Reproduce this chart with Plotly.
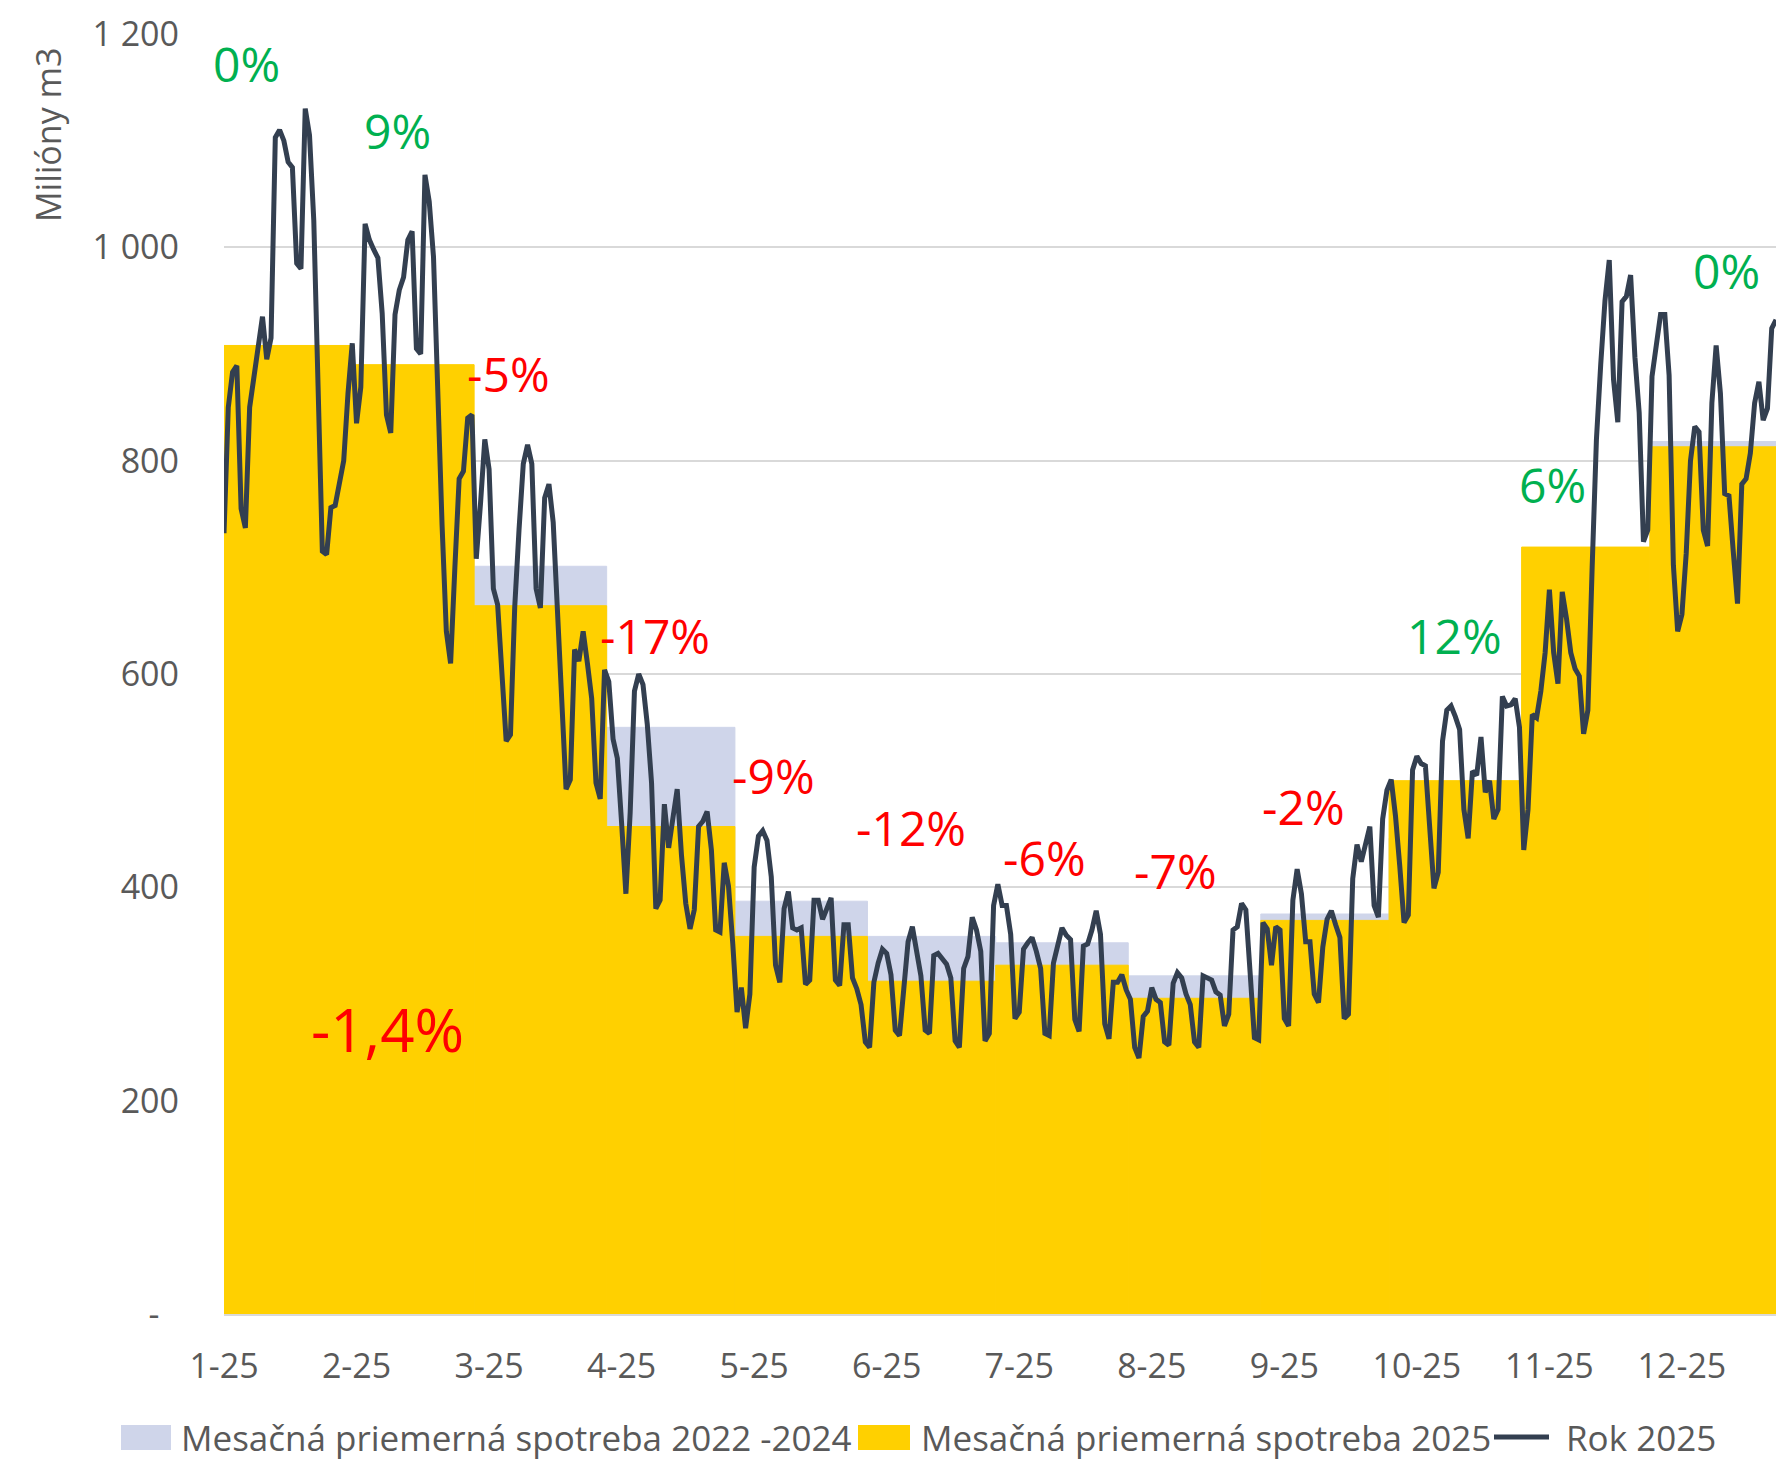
import plotly.graph_objects as go
from itertools import accumulate

# ---------------- data ----------------
month_labels = ["1-25", "2-25", "3-25", "4-25", "5-25", "6-25",
                "7-25", "8-25", "9-25", "10-25", "11-25", "12-25"]
month_days = [31, 28, 31, 30, 31, 30, 31, 31, 30, 31, 30, 31]

avg_2022_2024 = [908, 817, 701, 550, 387, 354, 348, 317, 375, 446, 678, 818]
avg_2025 = [908, 890, 664, 457, 354, 312, 327, 296, 369, 500, 719, 813]

change_labels = ["0%", "9%", "-5%", "-17%", "-9%", "-12%",
                 "-6%", "-7%", "-2%", "12%", "6%", "0%"]
total_change = "-1,4%"

daily_jan = [732, 850, 883, 889, 755, 737, 850, 880, 902, 935, 895, 915, 1103, 1110, 1100, 1080,
             1075, 985, 980, 1130, 1105, 1025, 870, 715, 712, 756, 758, 780, 800, 863, 910]
daily_feb = [835, 869, 1022, 1007, 998, 990, 938, 843, 826, 937, 960, 972, 1007, 1015, 905, 900,
             1068, 1043, 991, 860, 740, 640, 610, 700, 783, 790, 840, 843]
daily_mar = [708, 760, 820, 792, 680, 665, 600, 537, 543, 663, 735, 797, 815, 797, 680, 662,
             765, 778, 742, 650, 560, 492, 501, 623, 612, 640, 610, 577, 498, 483, 604]
daily_apr = [593, 539, 521, 460, 394, 470, 584, 600, 590, 553, 498, 380, 388, 478, 437, 465,
             492, 430, 385, 361, 379, 457, 462, 471, 435, 360, 358, 423, 401, 347]
daily_may = [283, 306, 268, 300, 419, 448, 453, 444, 410, 327, 311, 380, 396, 362, 360, 362,
             309, 313, 388, 388, 370, 380, 390, 313, 308, 365, 365, 315, 305, 290, 255]
daily_jun = [250, 311, 329, 342, 338, 318, 266, 261, 305, 349, 363, 340, 317, 266, 263, 336,
             338, 333, 328, 315, 256, 250, 324, 335, 372, 360, 340, 256, 263, 383]
daily_jul = [403, 383, 383, 356, 277, 283, 342, 348, 353, 340, 324, 263, 261, 329, 344, 362,
             355, 351, 276, 265, 345, 347, 360, 378, 356, 272, 258, 311, 311, 318, 304]
daily_aug = [295, 250, 240, 279, 284, 306, 295, 292, 255, 252, 310, 320, 315, 300, 290, 255,
             250, 317, 315, 313, 302, 299, 270, 281, 360, 363, 385, 379, 320, 259, 257]
daily_sep = [367, 361, 327, 363, 360, 277, 270, 388, 417, 394, 349, 349, 300, 292, 344, 370,
             378, 365, 353, 277, 281, 408, 440, 424, 440, 457, 383, 372, 464, 491]
daily_oct = [501, 467, 420, 367, 374, 510, 523, 516, 514, 462, 399, 414, 537, 566, 570, 560,
             548, 473, 446, 509, 505, 541, 489, 500, 464, 473, 579, 570, 571, 577, 550]
daily_nov = [435, 473, 562, 559, 584, 620, 679, 620, 591, 677, 652, 620, 605, 598, 544, 566,
             700, 820, 890, 950, 988, 876, 836, 949, 954, 974, 897, 845, 724, 735]
daily_dec = [879, 907, 937, 937, 880, 702, 640, 656, 713, 800, 832, 827, 735, 720, 854, 908,
             863, 769, 767, 715, 666, 778, 783, 807, 854, 874, 838, 849, 924, 932]

daily_2025 = (daily_jan + daily_feb + daily_mar + daily_apr + daily_may + daily_jun +
              daily_jul + daily_aug + daily_sep + daily_oct + daily_nov + daily_dec)

# ---------------- layout constants ----------------
W, H = 1776, 1462
PL, PT, PB = 224, 34, 1314          # plot left / top / bottom in px
X_MAX = 363                          # last visible day
C_GREY = "#CFD5EA"
C_YELLOW = "#FFD000"
C_LINE = "#333F50"
C_TEXT = "#595959"
C_GREEN = "#00B050"
C_RED = "#FF0000"
FONT = "Open Sans"

# label positions (day index, value) for the monthly change labels
change_x = [5.3, 40.6, 66.6, 100.9, 128.6, 160.6, 191.8, 222.6, 252.6, 287.9, 310.8, 351.5]
change_y = [1172, 1110, 882, 636, 505, 456, 428, 416, 476, 636, 778, 978]


def px_x(px):
    return (px - PL) / (W - PL)


def px_y(py):
    return (PB - py) / (PB - PT)


month_start = [0] + list(accumulate(month_days))[:-1]
days = list(range(len(daily_2025)))

fig = go.Figure()
fig.add_trace(go.Bar(
    x=month_start, y=avg_2022_2024, width=month_days, offset=-0.5,
    marker=dict(color=C_GREY, line=dict(width=1, color=C_GREY)),
    name="Mesačná priemerná spotreba 2022 -2024", hoverinfo="skip"))
fig.add_trace(go.Bar(
    x=month_start, y=avg_2025, width=month_days, offset=-0.5,
    marker=dict(color=C_YELLOW, line=dict(width=1, color=C_YELLOW)),
    name="Mesačná priemerná spotreba 2025", hoverinfo="skip"))
fig.add_trace(go.Scatter(
    x=days, y=daily_2025, mode="lines",
    line=dict(color=C_LINE, width=5),
    name="Rok 2025"))

annotations = []
for lab, xx, yy in zip(change_labels, change_x, change_y):
    annotations.append(dict(
        x=xx, y=yy, xref="x", yref="y", text=lab, showarrow=False,
        xanchor="center", yanchor="middle",
        font=dict(family=FONT, size=48, color=C_RED if lab.startswith("-") else C_GREEN)))
annotations.append(dict(
    x=38.2, y=267, xref="x", yref="y", text=total_change, showarrow=False,
    xanchor="center", yanchor="middle",
    font=dict(family=FONT, size=60, color=C_RED)))

# y-axis title
annotations.append(dict(
    x=px_x(48), y=px_y(135), xref="paper", yref="paper", text="Milióny m3",
    textangle=-90, showarrow=False, xanchor="center", yanchor="middle",
    font=dict(family=FONT, size=34, color=C_TEXT)))

# manual legend
legend_y = 1437
shapes = [
    dict(type="rect", xref="paper", yref="paper", x0=px_x(121), x1=px_x(171),
         y0=px_y(1450), y1=px_y(1425), fillcolor=C_GREY, line=dict(width=0)),
    dict(type="rect", xref="paper", yref="paper", x0=px_x(858), x1=px_x(910),
         y0=px_y(1450), y1=px_y(1425), fillcolor=C_YELLOW, line=dict(width=0)),
    dict(type="line", xref="paper", yref="paper", x0=px_x(1494), x1=px_x(1549),
         y0=px_y(legend_y), y1=px_y(legend_y), line=dict(color=C_LINE, width=5)),
]
for txt, xpx in [(fig.data[0].name, 179), (fig.data[1].name, 919), (fig.data[2].name, 1564)]:
    annotations.append(dict(
        x=px_x(xpx), y=px_y(legend_y), xref="paper", yref="paper", text=txt,
        showarrow=False, xanchor="left", yanchor="middle",
        font=dict(family=FONT, size=35, color=C_TEXT)))

fig.update_layout(
    width=W, height=H,
    margin=dict(l=PL, r=0, t=PT, b=H - PB, pad=0),
    paper_bgcolor="white", plot_bgcolor="white",
    barmode="overlay", showlegend=False,
    font=dict(family=FONT, size=34, color=C_TEXT),
    annotations=annotations, shapes=shapes,
)
fig.update_xaxes(
    range=[0, X_MAX], tickmode="array",
    tickvals=[31 * i for i in range(len(month_labels))], ticktext=month_labels,
    showgrid=False, zeroline=False, showline=True, linecolor="#D9D9D9", linewidth=2,
    ticks="", ticklabelstandoff=21, automargin=False,
    tickfont=dict(family=FONT, size=34, color=C_TEXT))
fig.update_yaxes(
    range=[0, 1200], tickmode="array",
    tickvals=[0, 200, 400, 600, 800, 1000, 1200],
    ticktext=["-\u2007", "200", "400", "600", "800", "1\u00a0000", "1\u00a0200"],
    showgrid=True, gridcolor="#D9D9D9", gridwidth=1.5, zeroline=False, showline=False,
    ticks="", ticklabelstandoff=44, automargin=False,
    tickfont=dict(family=FONT, size=34, color=C_TEXT))

# the page's default 8px body margin would shift the chart; remove it
fig.write_html(
    "out.html",
    config={"displayModeBar": False},
    post_script="document.body.style.margin='0';document.body.style.overflow='hidden';")
